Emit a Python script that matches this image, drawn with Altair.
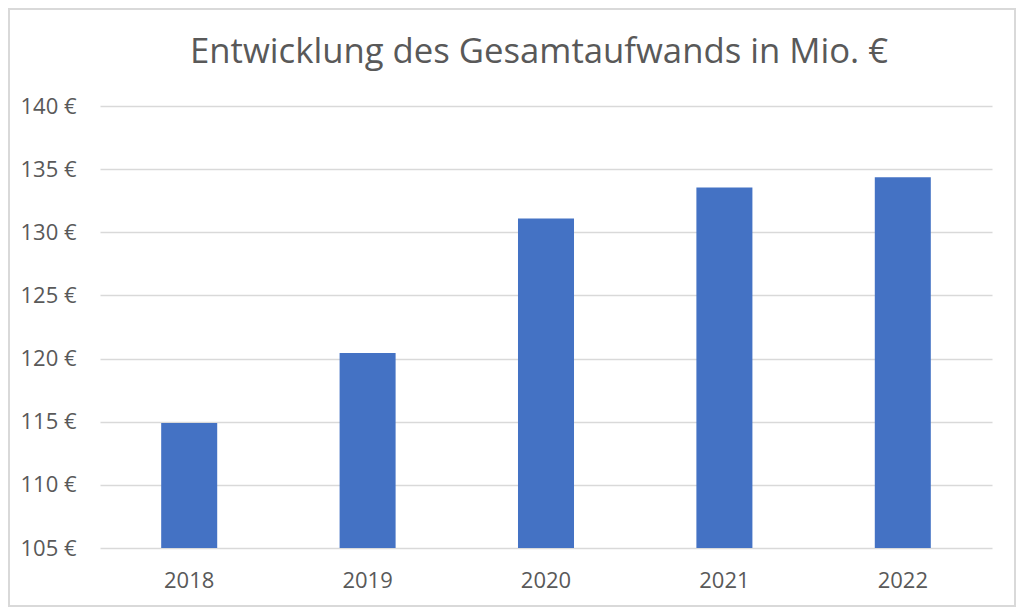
import altair as alt
import pandas as pd

years = ["2018", "2019", "2020", "2021", "2022"]
values = [114.9, 120.45, 131.1, 133.55, 134.35]
y_ticks = [105, 110, 115, 120, 125, 130, 135, 140]
title_text = "Entwicklung des Gesamtaufwands in Mio. €"

df = pd.DataFrame({"Jahr": years, "Wert": values})

FONT = "Open Sans"
GREY = "#595959"
GRID = "#d9d9d9"

bars = alt.Chart(df).mark_bar(color="#4472C4").encode(
    x=alt.X("Jahr:N", sort=years, title=None,
            scale=alt.Scale(paddingInner=0.686, paddingOuter=0.343),
            axis=alt.Axis(labelAngle=0, labelFontSize=22, labelFont=FONT,
                          labelColor=GREY, labelPadding=22, ticks=False,
                          domain=False, grid=False)),
    y=alt.Y("Wert:Q", title=None,
            scale=alt.Scale(domain=[y_ticks[0], y_ticks[-1]], nice=False, zero=False),
            axis=alt.Axis(values=y_ticks, labelExpr="datum.value + ' €'",
                          labelFontSize=22, labelFont=FONT, labelColor=GREY,
                          labelPadding=24, ticks=False, domain=False,
                          grid=True, gridColor=GRID, gridWidth=1.3)),
    y2=alt.datum(y_ticks[0]),
)

title = alt.Chart(pd.DataFrame({"t": [title_text]})).mark_text(
    font=FONT, fontSize=34.7, color=GREY, align="center", baseline="alphabetic"
).encode(
    text="t:N",
    x=alt.value(439),
    y=alt.value(-43),
)

border = alt.Chart(df).mark_rect(fill=None, stroke=GRID, strokeWidth=1.5).encode(
    x=alt.value(-91),
    x2=alt.value(915),
    y=alt.value(-97),
    y2=alt.value(500),
)

chart = alt.layer(bars, title, border).properties(
    width=892,
    height=442,
    padding={"left": 92, "top": 98, "right": 24, "bottom": 59},
    autosize=alt.AutoSizeParams(type="none"),
).configure_view(stroke=None)

chart.save("out.html", embed_options={"renderer": "svg", "actions": False})
